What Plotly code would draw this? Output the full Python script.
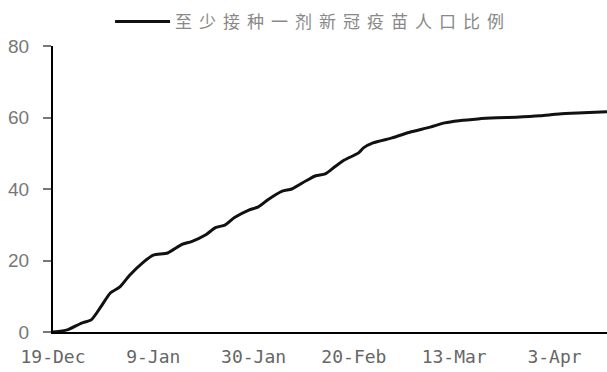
import plotly.graph_objects as go

dates = [
    "2020-12-19", "2020-12-22", "2020-12-25", "2020-12-27", "2020-12-29", "2020-12-31",
    "2021-01-02", "2021-01-04", "2021-01-07", "2021-01-09", "2021-01-12", "2021-01-15",
    "2021-01-17", "2021-01-20", "2021-01-22", "2021-01-24", "2021-01-26", "2021-01-29",
    "2021-01-31", "2021-02-02", "2021-02-05", "2021-02-07", "2021-02-10", "2021-02-12",
    "2021-02-14", "2021-02-16", "2021-02-18", "2021-02-21", "2021-02-22", "2021-02-24",
    "2021-02-28", "2021-03-04", "2021-03-08", "2021-03-11", "2021-03-14", "2021-03-18",
    "2021-03-22", "2021-03-26", "2021-03-31", "2021-04-04", "2021-04-09", "2021-04-14",
]
values = [
    0.0, 0.6, 2.5, 3.4, 7.0, 10.9,
    12.6, 15.8, 19.6, 21.5, 22.1, 24.5,
    25.3, 27.2, 29.2, 29.9, 32.0, 34.1,
    35.0, 37.0, 39.4, 40.0, 42.3, 43.7,
    44.2, 46.2, 48.1, 50.1, 51.5, 52.9,
    54.3, 56.0, 57.3, 58.5, 59.1, 59.6,
    59.9, 60.1, 60.5, 61.0, 61.3, 61.6,
]
series_name = "至少接种一剂新冠疫苗人口比例"
x_tickvals = ["2020-12-19", "2021-01-09", "2021-01-30", "2021-02-20", "2021-03-13", "2021-04-03"]
x_ticktext = ["19-Dec", "9-Jan", "30-Jan", "20-Feb", "13-Mar", "3-Apr"]
y_tickvals = [0, 20, 40, 60, 80]

fig = go.Figure()
fig.add_trace(go.Scatter(
    x=dates, y=values, mode="lines",
    name='<span style="letter-spacing:7px">' + series_name + '</span>',
    line=dict(color="#111111", width=3, shape="spline", smoothing=0.6),
))

fig.update_layout(
    width=607, height=372,
    margin=dict(l=53, r=0, t=46, b=40),
    plot_bgcolor="white", paper_bgcolor="white",
    showlegend=True,
    legend=dict(
        orientation="h", x=0.103, xanchor="left", y=1.021, yanchor="bottom",
        font=dict(family="Noto Sans CJK SC", size=17, color="#888888"),
        itemwidth=55, bgcolor="rgba(0,0,0,0)",
    ),
    xaxis=dict(
        type="date", range=["2020-12-19", "2021-04-14"],
        tickvals=x_tickvals, ticktext=x_ticktext,
        showgrid=False, zeroline=False,
        showline=True, linecolor="#000000", linewidth=2,
        ticks="", ticklabelstandoff=7,
        tickfont=dict(family="DejaVu Sans Mono", size=18, color="#666666"),
    ),
    yaxis=dict(
        range=[0, 80], tickvals=y_tickvals,
        showgrid=False, zeroline=False,
        showline=True, linecolor="#000000", linewidth=2,
        ticks="outside", ticklen=8, tickwidth=2, tickcolor="#777777",
        ticklabelstandoff=10,
        tickfont=dict(family="Liberation Sans", size=19, color="#777777"),
    ),
)

fig.write_html("out.html")
